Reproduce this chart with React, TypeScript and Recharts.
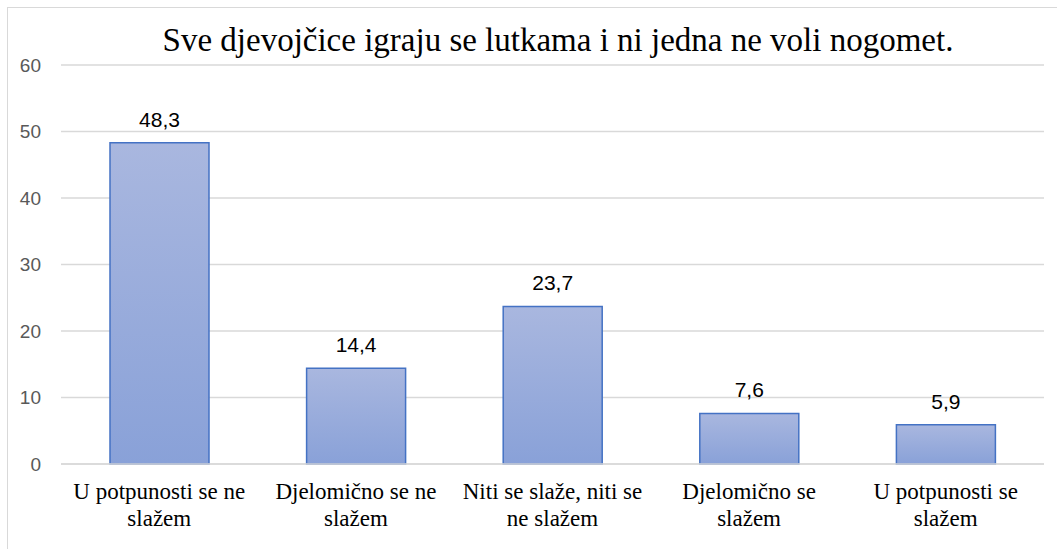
import { Bar, BarChart, CartesianGrid, LabelList, XAxis, YAxis } from "recharts";

const categories = [
  "U potpunosti se ne slažem",
  "Djelomično se ne slažem",
  "Niti se slaže, niti se ne slažem",
  "Djelomično se slažem",
  "U potpunosti se slažem",
];
const labelLines = [
  ["U potpunosti se ne", "slažem"],
  ["Djelomično se ne", "slažem"],
  ["Niti se slaže, niti se", "ne slažem"],
  ["Djelomično se", "slažem"],
  ["U potpunosti se", "slažem"],
];
const values = [48.3, 14.4, 23.7, 7.6, 5.9];
const yTicks = [0, 10, 20, 30, 40, 50, 60];
const title = "Sve djevojčice igraju se lutkama i ni jedna ne voli nogomet.";

const data = categories.map((name, i) => ({ name, value: values[i] }));

const serif = "'Liberation Serif', 'Times New Roman', serif";
const sans = "'Liberation Sans', Arial, sans-serif";

function CategoryTick({ x, y, payload }: any) {
  const idx = categories.indexOf(payload.value);
  const lines = labelLines[idx] || [payload.value];
  return (
    <text x={x} y={y} textAnchor="middle" fill="#000" style={{ fontFamily: serif, fontSize: 23 }}>
      {lines.map((l, i) => (
        <tspan key={i} x={x} dy={27}>
          {l}
        </tspan>
      ))}
    </text>
  );
}

export default function App() {
  return (
    <div
      style={{
        position: "absolute",
        left: 0,
        top: 0,
        width: 1057,
        height: 549,
        overflow: "hidden",
        background: "#fff",
      }}
    >
      <div
        style={{
          position: "absolute",
          left: 7,
          top: 7,
          width: 1100,
          height: 600,
          border: "1px solid #D9D9D9",
        }}
      />
      <div style={{ position: "absolute", left: 0, top: 0 }}>
        <BarChart
          width={1057}
          height={549}
          data={data}
          margin={{ top: 65, right: 13, left: 0, bottom: 25 }}
          barSize={99}
        >
          <defs>
            <linearGradient id="barFill" x1="0" y1="0" x2="0" y2="1">
              <stop offset="0%" stopColor="#A9B7DF" />
              <stop offset="100%" stopColor="#89A1D8" />
            </linearGradient>
          </defs>
          <CartesianGrid vertical={false} stroke="#D9D9D9" strokeWidth={1.5} />
          <XAxis
            dataKey="name"
            interval={0}
            height={60}
            tickLine={false}
            axisLine={{ stroke: "#D9D9D9", strokeWidth: 1.5 }}
            tick={<CategoryTick />}
          />
          <YAxis
            width={61}
            domain={[0, 60]}
            ticks={yTicks}
            tickLine={false}
            axisLine={false}
            tickMargin={14}
            tick={{ fill: "#595959", fontSize: 19, fontFamily: sans }}
          />
          <Bar
            dataKey="value"
            fill="url(#barFill)"
            stroke="#4472C4"
            strokeWidth={1.5}
            isAnimationActive={false}
          >
            <LabelList
              dataKey="value"
              position="top"
              offset={16}
              fill="#000"
              fontSize={21}
              fontFamily={sans}
              formatter={(v: any) => Number(v).toFixed(1).replace(".", ",")}
            />
          </Bar>
        </BarChart>
      </div>
      <svg
        width={1057}
        height={80}
        style={{ position: "absolute", left: 0, top: 0, pointerEvents: "none" }}
      >
        <text x={558} y={51} textAnchor="middle" fill="#000" style={{ fontFamily: serif, fontSize: 33 }}>
          {title}
        </text>
      </svg>
    </div>
  );
}
